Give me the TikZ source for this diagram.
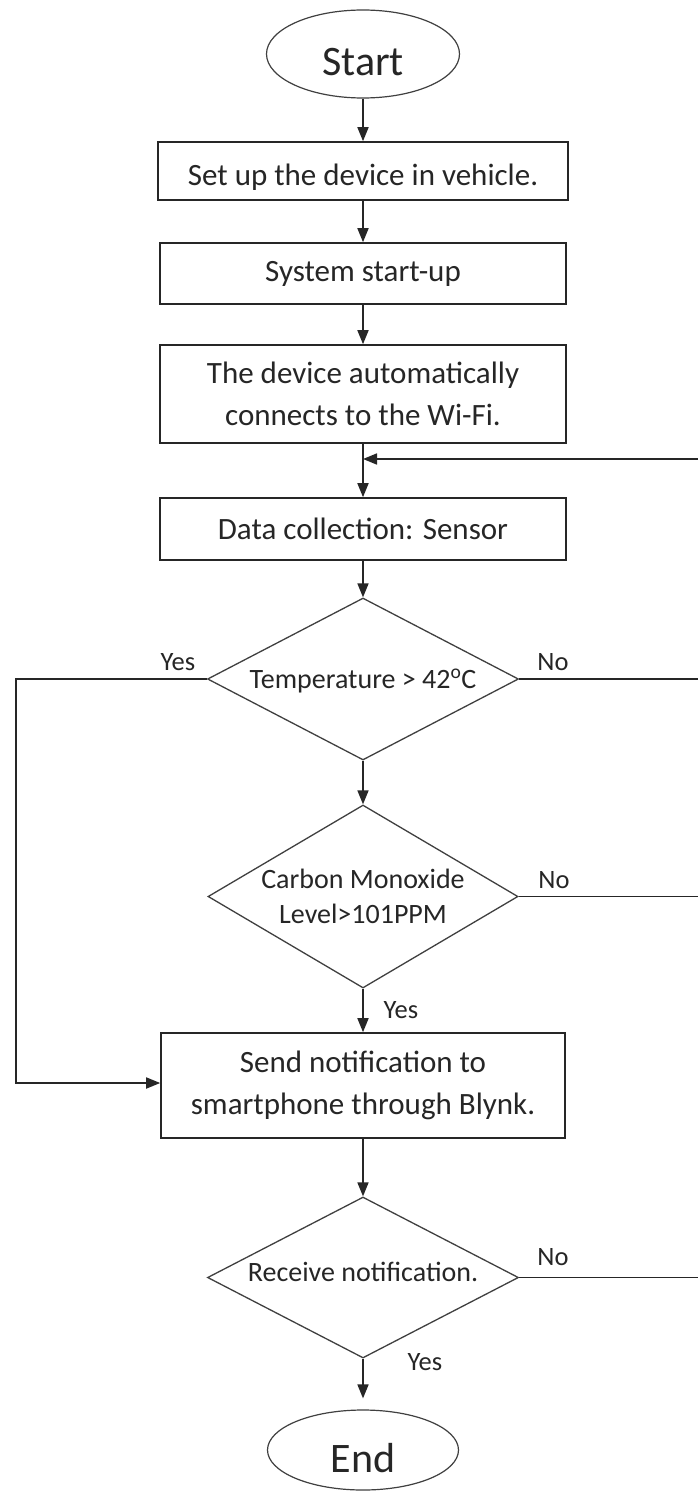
\documentclass[tikz,border=0pt]{standalone}
\usepackage{fontspec}
\setmainfont{Carlito}
\usetikzlibrary{shapes.geometric,arrows.meta}
\begin{document}
\begin{tikzpicture}[x=1pt,y=-1pt,
  box/.style={draw=black!85, line width=1.6pt, rectangle, inner sep=0pt, minimum width=406pt, align=center, font=\fontsize{31}{42}\selectfont, text=black!85},
  dec/.style={draw=black!75, line width=1.3pt, diamond, inner sep=0pt},
  term/.style={draw=black!75, line width=1.2pt, ellipse, inner sep=0pt},
  conn/.style={draw=black!85, line width=1.7pt},
  arr/.style={conn, -{Triangle[length=14pt,width=11pt]}},
  lbl/.style={font=\fontsize{26.5}{30}\selectfont, text=black!85},
  dtext/.style={font=\fontsize{28}{35}\selectfont, align=center, text=black!85},
  ttext/.style={font=\fontsize{42}{46}\selectfont, text=black!85}
]
\useasboundingbox (0,0) rectangle (698,1493);
\fill[white] (0,0) rectangle (698,1493);

% nodes
\node[term, minimum width=193pt, minimum height=88pt,
      label={[ttext, yshift=-8pt]center:Start}] (start) at (363,54) {};
\node[box, minimum width=410pt, minimum height=58pt,
      label={[font=\fontsize{31}{42}\selectfont, text=black!85, yshift=-6pt]center:Set up the device in vehicle.}] (b1) at (363,171) {};
\node[box, minimum height=61pt] (b2) at (363,273.5) {System start-up};
\node[box, minimum height=98pt] (b3) at (363,394) {The device automatically\\connects to the Wi-Fi.};
\node[box, minimum height=62pt] (b4) at (363,529) {Data collection: Sensor};
\node[dec, minimum width=311pt, minimum height=162pt,
      label={[dtext, yshift=-2pt]center:Temperature > 42\textsuperscript{o}C}] (d1) at (363,679) {};
\node[dec, minimum width=310pt, minimum height=183pt,
      label={[dtext]center:{Carbon Monoxide\\Level>101PPM}}] (d2) at (363,896.5) {};
\node[box, minimum width=404pt, minimum height=105pt] (b5) at (363,1085.5) {Send notification to\\smartphone through Blynk.};
\node[dec, minimum width=311pt, minimum height=161pt,
      label={[dtext, yshift=6pt]center:Receive notification.}] (d3) at (363,1277.5) {};
\node[term, minimum width=191pt, minimum height=80pt,
      label={[ttext, yshift=-8pt]center:End}] (end) at (363,1450) {};

% branch labels
\node[lbl] (y1) at (178,662) {Yes};
\node[lbl] (n1) at (553,662) {No};
\node[lbl] (n2) at (554,880) {No};
\node[lbl] (y2) at (401,1010) {Yes};
\node[lbl] (n3) at (553,1257) {No};
\node[lbl] (y3) at (425,1362) {Yes};

% free ends and bends
\coordinate (fb) at (698,459);
\coordinate (yl) at (16,1083);

% connectors
\draw[arr] (start.south) -- (b1.north);
\draw[arr] (b1.south) -- (b2.north);
\draw[arr] (b2.south) -- (b3.north);
\draw[arr] (b3.south) -- (b4.north);
\draw[arr] (fb) -- (fb -| b4.north);
\draw[arr] (b4.south) -- (d1.north);
\draw[arr] (d1.south) -- (d2.north);
\draw[arr] (d2.south) -- (b5.north);
\draw[arr] (d1.west) -| (yl) -- (b5.west |- yl);
\draw[conn] (d1.east) -- (d1.east -| fb);
\draw[conn] (d2.east) -- (d2.east -| fb);
\draw[arr] (b5.south) -- (d3.north);
\draw[conn] (d3.east) -- (d3.east -| fb);
\draw[arr, shorten >=11pt] (d3.south) -- (end.north);
\end{tikzpicture}
\end{document}
